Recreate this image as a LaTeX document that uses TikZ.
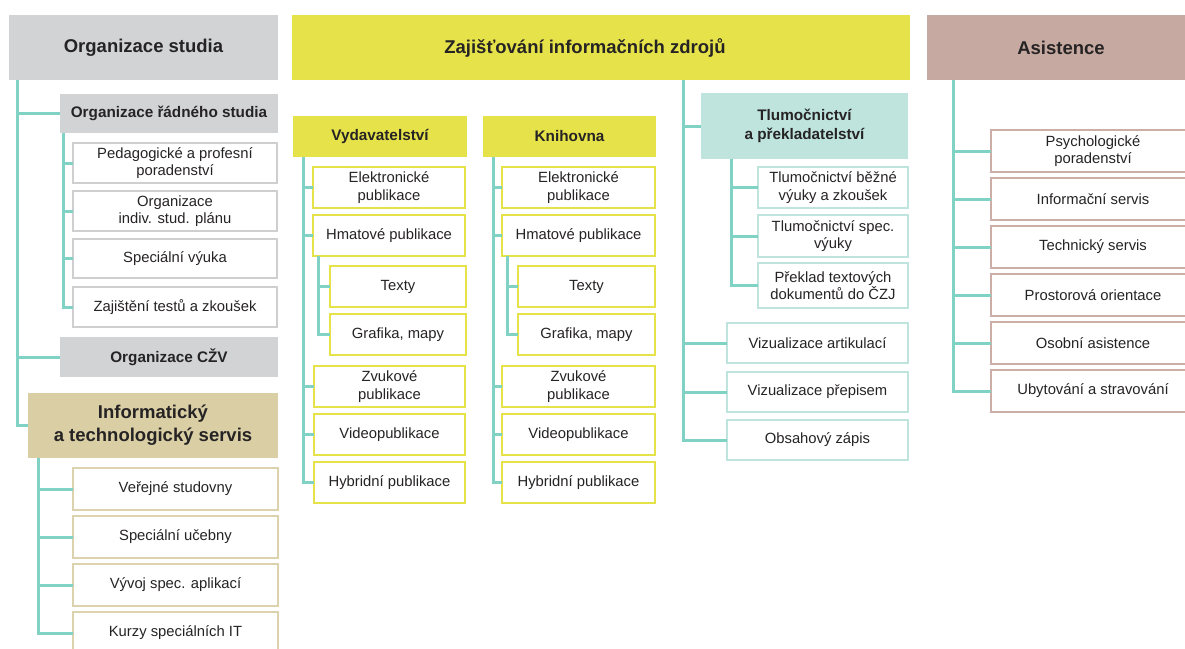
\documentclass[tikz,border=0pt]{standalone}
\usepackage{fontspec}
\setmainfont{Liberation Sans}
\definecolor{grayF}{HTML}{D1D3D4}
\definecolor{grayB}{HTML}{CFCFCF}
\definecolor{yel}{HTML}{E6E24A}
\definecolor{tanF}{HTML}{D9CEA4}
\definecolor{tanB}{HTML}{DCD3AE}
\definecolor{tealF}{HTML}{BEE4DD}
\definecolor{roseF}{HTML}{C6A9A1}
\definecolor{roseB}{HTML}{CDAEA7}
\definecolor{conncol}{HTML}{80D2C4}
\definecolor{txt}{HTML}{262324}
\newcommand{\bx}[7]{\node[#6, minimum width={#4-#2}, minimum height={#5-#3}] (#1) at ({(#2+#4)/2},{(#3+#5)/2}) {#7};}
\tikzset{
  every node/.style={text=txt, inner sep=0pt, outer sep=0pt, align=center},
  hdr/.style={font=\fontsize{18.5}{23}\selectfont\bfseries},
  subhdr/.style={font=\fontsize{15.3}{19}\selectfont\bfseries},
  leaf/.style={draw, line width=1.6pt, fill=white, font=\fontsize{14.8}{17.5}\selectfont},
  leafG/.style={leaf, draw=grayB},
  leafT/.style={leaf, draw=tanB},
  leafY/.style={leaf, draw=yel},
  leafC/.style={leaf, draw=tealF},
  leafR/.style={leaf, draw=roseB},
  conn/.style={draw=conncol, line width=3pt}
}
\begin{document}
\begin{tikzpicture}[x=1pt,y=-1pt]
\useasboundingbox (0,0) rectangle (1185,648);
% ---------------- left column
\bx{os}{9}{15}{278}{80}{hdr,fill=grayF}{Organizace studia}
\bx{ors}{60}{94}{278}{133}{subhdr,fill=grayF}{Organizace řádného studia}
\bx{p1}{73}{143}{277}{183}{leafG}{Pedagogické a profesní\\poradenství}
\bx{p2}{73}{191}{277}{231}{leafG}{Organizace\\indiv. stud. plánu}
\bx{p3}{73}{239}{277}{278}{leafG}{Speciální výuka}
\bx{p4}{73}{287}{277}{327}{leafG}{Zajištění testů a zkoušek}
\bx{czv}{60}{337}{278}{377}{subhdr,fill=grayF}{Organizace CŽV}
\bx{its}{28}{393}{278}{458}{hdr,fill=tanF}{Informatický\\a technologický servis}
\bx{i1}{73}{468}{278}{510}{leafT}{Veřejné studovny}
\bx{i2}{73}{516}{278}{558}{leafT}{Speciální učebny}
\bx{i3}{73}{564}{278}{606}{leafT}{Vývoj spec. aplikací}
\bx{i4}{73}{612}{278}{654}{leafT}{Kurzy speciálních IT}
\foreach \n in {ors,czv,its} \draw[conn] ([xshift=8]os.south west) |- (\n.west);
\foreach \n in {p1,p2,p3,p4} \draw[conn] ([xshift=3]ors.south west) |- (\n.west);
\foreach \n in {i1,i2,i3,i4} \draw[conn] ([xshift=10]its.south west) |- (\n.west);
% ---------------- middle
\bx{zaj}{292}{15}{910}{80}{hdr,fill=yel}{\hspace*{-32pt}Zajišťování informačních zdrojů}
\bx{vyd}{293}{116}{467}{157}{subhdr,fill=yel}{Vydavatelství}
\bx{v1}{313}{167}{465}{208}{leafY}{Elektronické\\publikace}
\bx{v2}{313}{215}{465}{256}{leafY}{Hmatové publikace}
\bx{v3}{330}{266}{466}{307}{leafY}{Texty}
\bx{v4}{330}{314}{466}{355}{leafY}{Grafika, mapy}
\bx{v5}{314}{366}{465}{407}{leafY}{Zvukové\\publikace}
\bx{v6}{314}{414}{465}{455}{leafY}{Videopublikace}
\bx{v7}{314}{462}{465}{503}{leafY}{Hybridní publikace}
\foreach \n in {v1,v2,v5,v6,v7} \draw[conn] ([xshift=10]vyd.south west) |- (\n.west);
\foreach \n in {v3,v4} \draw[conn] ([xshift=5]v2.south west) |- (\n.west);
\bx{kni}{483}{116}{656}{157}{subhdr,fill=yel}{Knihovna}
\bx{k1}{502}{167}{655}{208}{leafY}{Elektronické\\publikace}
\bx{k2}{502}{215}{655}{256}{leafY}{Hmatové publikace}
\bx{k3}{518}{266}{655}{307}{leafY}{Texty}
\bx{k4}{518}{314}{655}{355}{leafY}{Grafika, mapy}
\bx{k5}{502}{366}{655}{407}{leafY}{Zvukové\\publikace}
\bx{k6}{502}{414}{655}{455}{leafY}{Videopublikace}
\bx{k7}{502}{462}{655}{503}{leafY}{Hybridní publikace}
\foreach \n in {k1,k2,k5,k6,k7} \draw[conn] ([xshift=10]kni.south west) |- (\n.west);
\foreach \n in {k3,k4} \draw[conn] ([xshift=5]k2.south west) |- (\n.west);
\bx{tl}{701}{93}{908}{159}{subhdr,fill=tealF}{Tlumočnictví\\a překladatelství}
\bx{t1}{758}{167}{908}{208}{leafC}{Tlumočnictví běžné\\výuky a zkoušek}
\bx{t2}{758}{215}{908}{257}{leafC}{Tlumočnictví spec.\\výuky}
\bx{t3}{758}{263}{908}{308}{leafC}{Překlad textových\\dokumentů do ČZJ}
\bx{z1}{727}{323}{908}{363}{leafC}{Vizualizace artikulací}
\bx{z2}{727}{372}{908}{412}{leafC}{Vizualizace přepisem}
\bx{z3}{727}{420}{908}{460}{leafC}{Obsahový zápis}
\foreach \n in {tl,z1,z2,z3} \draw[conn] ([xshift=391]zaj.south west) |- (\n.west);
\foreach \n in {t1,t2,t3} \draw[conn] ([xshift=30]tl.south west) |- (\n.west);
% ---------------- right column
\bx{as}{927}{15}{1195}{80}{hdr,fill=roseF}{Asistence}
\bx{a1}{991}{130}{1195}{172}{leafR}{Psychologické\\poradenství}
\bx{a2}{991}{178}{1195}{220}{leafR}{Informační servis}
\bx{a3}{991}{226}{1195}{268}{leafR}{Technický servis}
\bx{a4}{991}{274}{1195}{316}{leafR}{Prostorová orientace}
\bx{a5}{991}{322}{1195}{364}{leafR}{Osobní asistence}
\bx{a6}{991}{370}{1195}{412}{leafR}{Ubytování a stravování}
\foreach \n in {a1,a2,a3,a4,a5,a6} \draw[conn] ([xshift=26]as.south west) |- (\n.west);
\end{tikzpicture}
\end{document}
